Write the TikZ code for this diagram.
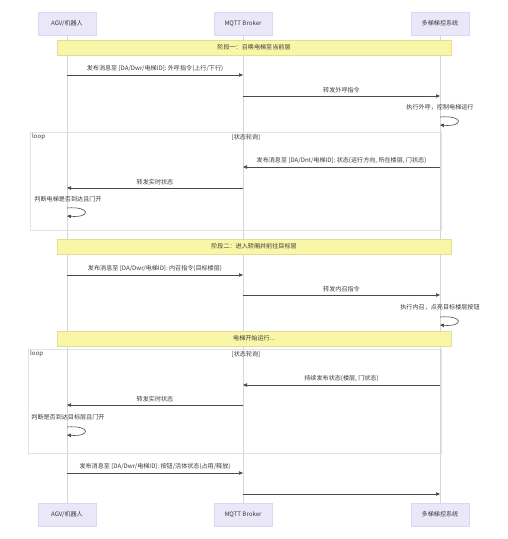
\documentclass[tikz,border=0pt]{standalone}
\usepackage{fontspec}
\setmainfont{Noto Sans CJK SC}
\usetikzlibrary{arrows.meta}
\usetikzlibrary{positioning}

\definecolor{actorfill}{HTML}{EAE8F8}
\definecolor{actorline}{HTML}{DCD8F2}
\definecolor{notefill}{HTML}{FAF6A8}
\definecolor{noteline}{HTML}{E2DE96}
\definecolor{lifegray}{HTML}{D6D6DA}
\definecolor{framegray}{HTML}{E2E2E6}
\definecolor{msggray}{HTML}{4A4A4A}
\definecolor{txtgray}{HTML}{3A3A3A}

\begin{document}
\begin{tikzpicture}[x=1pt, y=-1pt, font=\fontsize{6.1}{7.5}\selectfont, text=txtgray,
actor/.style={draw=actorline, fill=actorfill, minimum width=58pt, minimum height=23pt, inner sep=1pt},
note/.style={draw=noteline, fill=notefill, minimum width=394pt, minimum height=15pt, inner sep=1pt},
life/.style={draw=lifegray, line width=.5pt},
msg/.style={draw=msggray, line width=.6pt, -{Triangle[length=4pt, width=3.4pt]}},
lbl/.style={above=2pt, inner sep=1pt},
loopbox/.style={draw=framegray, line width=.6pt}]
\useasboundingbox[fill=white] (0,0) rectangle (507,539);

% participants
\node[actor] (agv) at (67,23.5) {AGV/机器人};
\node[actor] (mqtt) at (243,23.5) {MQTT Broker};
\node[actor] (tk) at (440,23.5) {多梯梯控系统};
\node[actor] (agvB) at (67,514.5) {AGV/机器人};
\node[actor] (mqttB) at (243,514.5) {MQTT Broker};
\node[actor] (tkB) at (440,514.5) {多梯梯控系统};
\foreach \i/\j in {agv/agvB, mqtt/mqttB, tk/tkB}{
\draw[life] (\i) -- (\j);}

% loop frames
\draw[loopbox] (30,132) rectangle (441,230);
\node[anchor=west, inner sep=1pt] (loopA) at (31,137) {loop};
\node[inner sep=1pt] (condA) at (246,137) {[状态轮询]};
\draw[loopbox] (28,349) rectangle (441,453);
\node[anchor=west, inner sep=1pt] (loopB) at (29,354) {loop};
\node[inner sep=1pt] (condB) at (246,354) {[状态轮询]};

% notes
\node[note] (p1) at (254,47.5) {阶段一：召唤电梯至当前层};
\node[note] (p2) at (254,246.5) {阶段二：进入轿厢并前往目标层};
\node[note] (p3) at (254,338.5) {电梯开始运行...};

% phase one
\draw[msg] (agv |- 0,75) -- node[lbl] {发布消息至 [DA/Dwr/电梯ID]: 外呼指令(上行/下行)} (mqtt |- 0,75);
\draw[msg] (mqtt |- 0,96) -- node[lbl] {转发外呼指令} (tk |- 0,96);
\node[inner sep=1pt] (s1) at (440,107) {执行外呼，控制电梯运行};
\draw[msg] (tk |- 0,117) .. controls +(24,-2) and +(24,2) .. (tk |- 0,125);
\draw[msg] (tk |- 0,167) -- node[lbl] {发布消息至 [DA/Dnt/电梯ID]: 状态(运行方向, 所在楼层, 门状态)} (mqtt |- 0,167);
\draw[msg] (mqtt |- 0,188) -- node[lbl] {转发实时状态} (agv |- 0,188);
\node[inner sep=1pt] (s2) at (68,199) {判断电梯是否到达且门开};
\draw[msg] (agv |- 0,208) .. controls +(24,-2) and +(24,2) .. (agv |- 0,216);

% phase two
\draw[msg] (agv |- 0,275) -- node[lbl] {发布消息至 [DA/Dwr/电梯ID]: 内召指令(目标楼层)} (mqtt |- 0,275);
\draw[msg] (mqtt |- 0,295) -- node[lbl] {转发内召指令} (tk |- 0,295);
\node[inner sep=1pt] (s3) at (440,307) {执行内召，点亮目标楼层按钮};
\draw[msg] (tk |- 0,317) .. controls +(24,-2) and +(24,2) .. (tk |- 0,325);
\draw[msg] (tk |- 0,385) -- node[lbl] {持续发布状态(楼层, 门状态)} (mqtt |- 0,385);
\draw[msg] (mqtt |- 0,405) -- node[lbl] {转发实时状态} (agv |- 0,405);
\node[inner sep=1pt] (s4) at (68,417) {判断是否到达目标层且门开};
\draw[msg] (agv |- 0,427) .. controls +(24,-2) and +(24,2) .. (agv |- 0,435);

% release
\draw[msg] (agv |- 0,473) -- node[lbl] {发布消息至 [DA/Dwr/电梯ID]: 按钮/活体状态(占用/释放)} (mqtt |- 0,473);
\draw[msg] (mqtt |- 0,494) -- (tk |- 0,494);
\end{tikzpicture}
\end{document}
